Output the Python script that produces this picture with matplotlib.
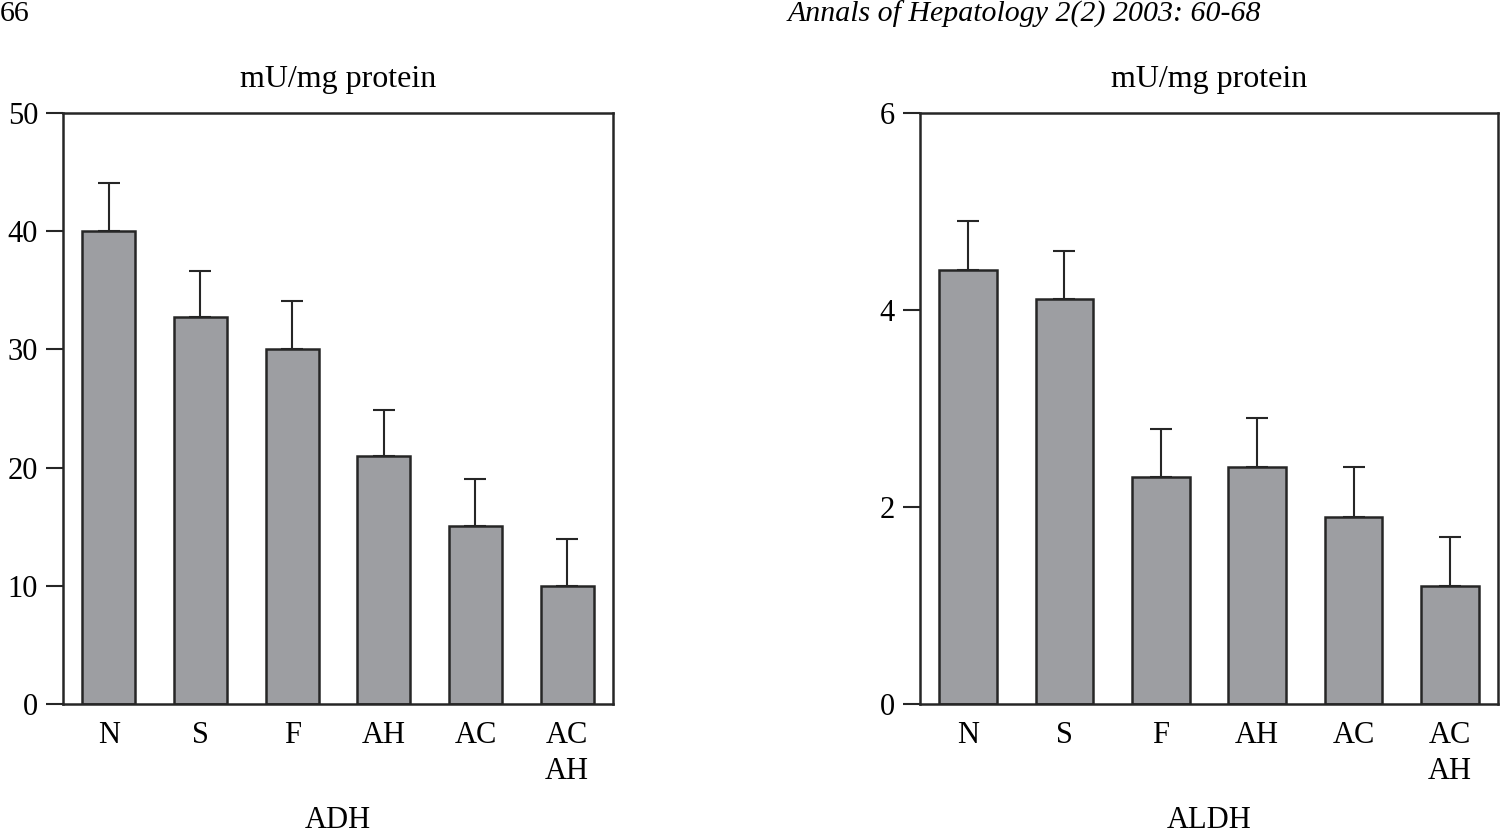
import matplotlib
matplotlib.use("Agg")
import matplotlib.pyplot as plt
import numpy as np

# data
groups = ["N", "S", "F", "AH", "AC", "AC\nAH"]
adh_mean = [40.0, 32.7, 30.0, 21.0, 15.1, 10.0]
adh_top = [44.1, 36.6, 34.1, 24.9, 19.0, 14.0]
aldh_mean = [4.41, 4.11, 2.30, 2.41, 1.90, 1.20]
aldh_top = [4.90, 4.60, 2.79, 2.90, 2.41, 1.70]
adh_ticks = [0, 10, 20, 30, 40, 50]
aldh_ticks = [0, 2, 4, 6]

plt.rcParams['font.family'] = ['Liberation Serif', 'DejaVu Serif']
plt.rcParams['font.size'] = 22

bar_color = '#9d9ea2'
edge_color = '#262626'

fig = plt.figure(figsize=(15, 8.33), dpi=100)
ax1 = fig.add_axes([63 / 1500, 1 - 704 / 833, 550 / 1500, 591 / 833])
ax2 = fig.add_axes([920 / 1500, 1 - 704 / 833, 578 / 1500, 591 / 833])


def draw_panel(ax, means, tops, ticks, ymax, width, name):
    x = np.arange(len(groups))
    means = np.array(means)
    err = np.array(tops) - means
    # error bars go up only, drawn under the bars
    ax.errorbar(x, means, yerr=[np.zeros_like(err), err], fmt='none',
                ecolor=edge_color, elinewidth=1.5, capsize=8, capthick=1.5,
                zorder=1)
    ax.bar(x, means, width=width, color=bar_color, edgecolor=edge_color,
           linewidth=1.8, zorder=2)
    ax.set_xlim(-0.5, len(groups) - 0.5)
    ax.set_ylim(0, ymax)
    ax.set_yticks(ticks)
    ax.set_xticks(x)
    ax.set_xticklabels(groups, linespacing=1.35)
    ax.tick_params(axis='x', length=0, pad=12)
    ax.tick_params(axis='y', length=12, width=1.5, pad=6, color=edge_color)
    for s in ax.spines.values():
        s.set_linewidth(1.8)
        s.set_color(edge_color)
    ax.set_title("mU/mg protein", pad=19, fontsize=23)
    bbox = ax.get_position()
    fig.text(bbox.x0 + bbox.width / 2, 1 - 806 / 833, name,
             ha='center', va='top')


draw_panel(ax1, adh_mean, adh_top, adh_ticks, 50, 0.58, "ADH")
draw_panel(ax2, aldh_mean, aldh_top, aldh_ticks, 6, 0.6, "ALDH")

# page header
fig.text(0.0, 1 - 14 / 833, "66", ha='left', va='center', fontsize=21.5)
fig.text(1024 / 1500, 1 - 14 / 833, "Annals of Hepatology 2(2) 2003: 60-68",
         ha='center', va='center', fontsize=21.5, style='italic')

plt.savefig("out.png", dpi=100)
